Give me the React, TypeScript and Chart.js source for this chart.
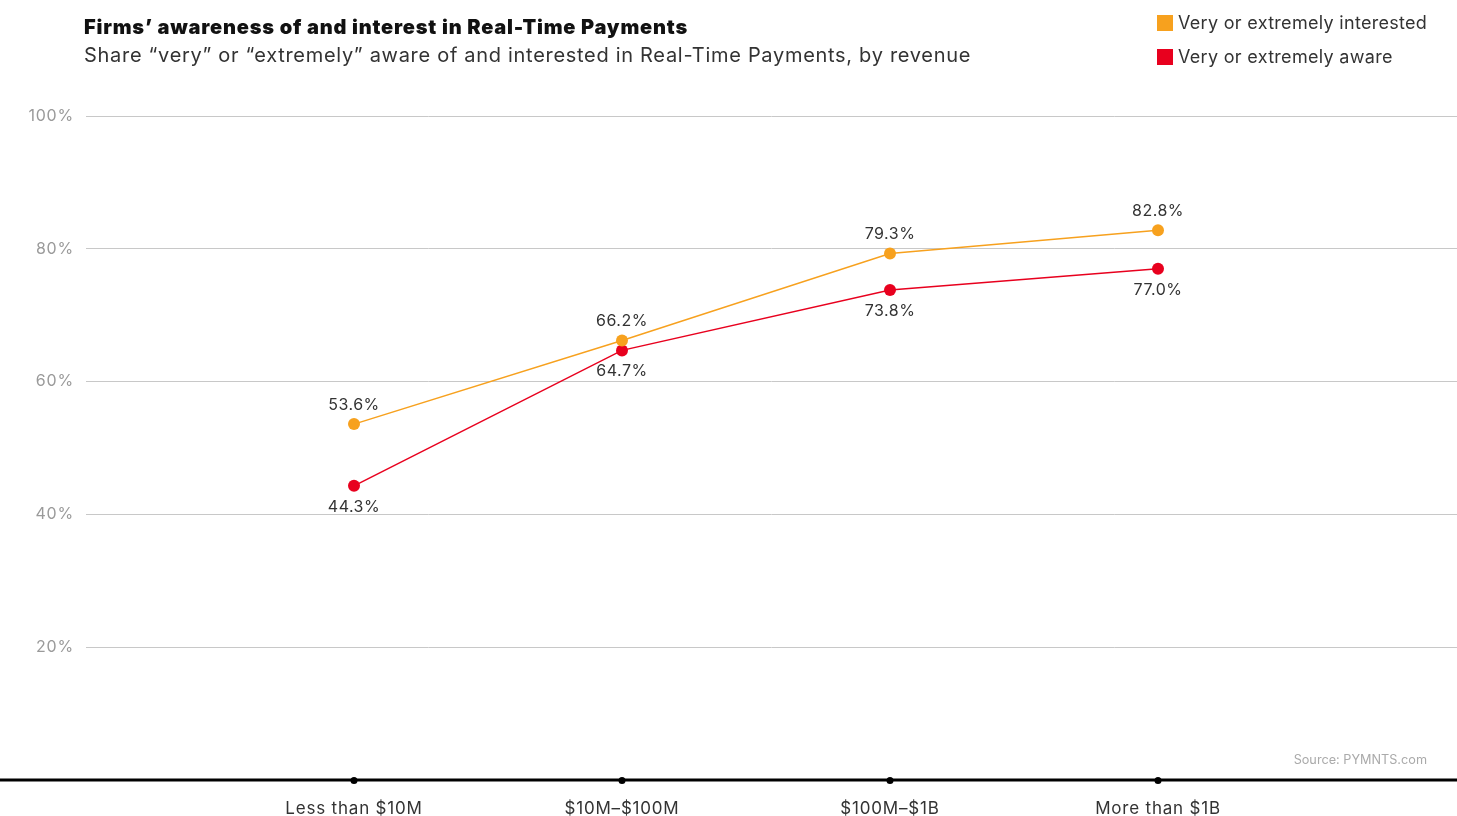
import React, { useEffect, useRef } from "react";
import { Chart, registerables } from "chart.js";

Chart.register(...registerables);

const categories = ["Less than $10M", "$10M–$100M", "$100M–$1B", "More than $1B"];
const interested = [53.6, 66.2, 79.3, 82.8];
const aware = [44.3, 64.7, 73.8, 77.0];
const yTicks = [0, 20, 40, 60, 80, 100];

const ORANGE = "#F7A11E";
const RED = "#E8001E";
const FONT = "Inter, 'Open Sans', sans-serif";

const spacingPlugin = {
  id: "spacing",
  beforeDraw(chart: any) {
    chart.ctx.letterSpacing = "0.8px";
  },
};

const overlayPlugin = {
  id: "overlay",
  afterDatasetsDraw(chart: any) {
    const { ctx, scales } = chart;
    const x = scales.x;
    const y = scales.y;
    const y0 = y.getPixelForValue(0);
    ctx.save();
    ctx.strokeStyle = "#000";
    ctx.lineWidth = 3;
    ctx.beginPath();
    ctx.moveTo(0, y0);
    ctx.lineTo(chart.width, y0);
    ctx.stroke();
    ctx.fillStyle = "#000";
    categories.forEach((_, i) => {
      ctx.beginPath();
      ctx.arc(x.getPixelForValue(i), y0 + 0.5, 3.5, 0, Math.PI * 2);
      ctx.fill();
    });
    ctx.letterSpacing = "0.5px";
    ctx.font = `16px ${FONT}`;
    ctx.fillStyle = "#333";
    ctx.textAlign = "center";
    ctx.textBaseline = "middle";
    interested.forEach((v, i) => {
      ctx.fillText(v.toFixed(1) + "%", x.getPixelForValue(i), y.getPixelForValue(v) - 19);
    });
    aware.forEach((v, i) => {
      ctx.fillText(v.toFixed(1) + "%", x.getPixelForValue(i), y.getPixelForValue(v) + 21);
    });
    ctx.restore();
  },
};

export default function App() {
  const ref = useRef<HTMLCanvasElement>(null);
  useEffect(() => {
    document.body.style.margin = "0";
    const chart = new Chart(ref.current!, {
      type: "line",
      data: {
        datasets: [
          {
            label: "Very or extremely interested",
            data: interested.map((v, i) => ({ x: i, y: v })),
            borderColor: ORANGE,
            backgroundColor: ORANGE,
            borderWidth: 1.5,
            pointRadius: 6,
            pointBorderWidth: 0,
          },
          {
            label: "Very or extremely aware",
            data: aware.map((v, i) => ({ x: i, y: v })),
            borderColor: RED,
            backgroundColor: RED,
            borderWidth: 1.5,
            pointRadius: 6,
            pointBorderWidth: 0,
          },
        ],
      },
      options: {
        animation: false,
        responsive: false,
        layout: { autoPadding: false, padding: { top: 116, right: 0, bottom: 0, left: 0 } },
        plugins: { legend: { display: false }, tooltip: { enabled: false } },
        scales: {
          x: {
            type: "linear",
            min: -1,
            max: (1457 - 86) / 268 - 1,
            afterBuildTicks: (axis: any) => {
              axis.ticks = categories.map((_, i) => ({ value: i }));
            },
            afterFit: (axis: any) => {
              axis.height = 36;
              axis.paddingLeft = 0;
              axis.paddingRight = 0;
            },
            grid: { display: false, drawTicks: false },
            border: { display: false },
            ticks: {
              callback: (v: any) => categories[v] ?? "",
              color: "#333",
              font: { family: FONT, size: 17 },
              padding: 19,
              maxRotation: 0,
              autoSkip: false,
            },
          },
          y: {
            min: 0,
            max: 100,
            afterBuildTicks: (axis: any) => {
              axis.ticks = yTicks.map((v) => ({ value: v }));
            },
            afterFit: (axis: any) => {
              axis.width = 86;
              axis.paddingTop = 0;
              axis.paddingBottom = 0;
            },
            grid: {
              drawTicks: false,
              color: (c: any) => (c.tick && c.tick.value === 0 ? "rgba(0,0,0,0)" : "#c8c8c8"),
              lineWidth: 1,
            },
            border: { display: false },
            ticks: {
              callback: (v: any) => (v === 0 ? "" : v + "%"),
              color: "#9a9a9a",
              font: { family: FONT, size: 16 },
              padding: 12,
            },
          },
        },
      },
      plugins: [spacingPlugin, overlayPlugin],
    });
    return () => chart.destroy();
  }, []);

  return (
    <div style={{ position: "relative", width: 1457, height: 816, fontFamily: FONT }}>
      <canvas ref={ref} width={1457} height={816} style={{ position: "absolute", left: 0, top: 0 }} />
      <div style={{ position: "absolute", left: 84, top: 15, fontSize: 20, fontWeight: 900, color: "#111", whiteSpace: "nowrap", letterSpacing: 0.8 }}>
        Firms’ awareness of and interest in Real-Time Payments
      </div>
      <div style={{ position: "absolute", left: 84, top: 43, fontSize: 20, fontWeight: 400, color: "#333", whiteSpace: "nowrap", letterSpacing: 0.7 }}>
        Share “very” or “extremely” aware of and interested in Real-Time Payments, by revenue
      </div>
      <div style={{ position: "absolute", left: 1157, top: 12, display: "flex", alignItems: "center", fontSize: 18, color: "#333", whiteSpace: "nowrap", letterSpacing: 0.3 }}>
        <span style={{ width: 16, height: 16, background: ORANGE, marginRight: 5, display: "inline-block" }} />
        Very or extremely interested
      </div>
      <div style={{ position: "absolute", left: 1157, top: 46, display: "flex", alignItems: "center", fontSize: 18, color: "#333", whiteSpace: "nowrap", letterSpacing: 0.3 }}>
        <span style={{ width: 16, height: 16, background: RED, marginRight: 5, display: "inline-block" }} />
        Very or extremely aware
      </div>
      <div style={{ position: "absolute", right: 30, top: 752, fontSize: 12.7, color: "#aaa", whiteSpace: "nowrap" }}>
        Source: PYMNTS.com
      </div>
    </div>
  );
}
